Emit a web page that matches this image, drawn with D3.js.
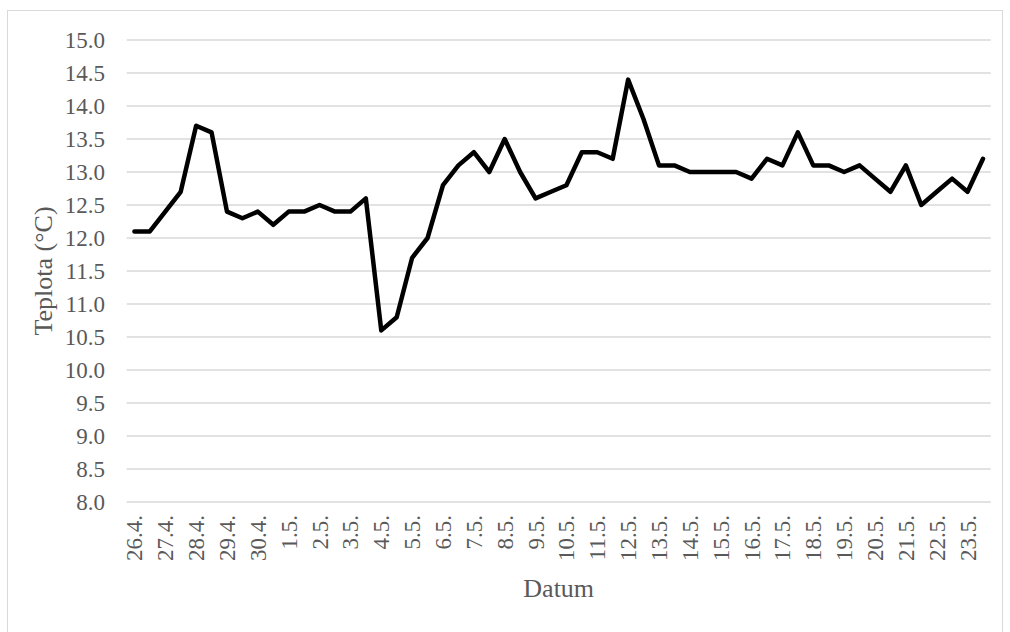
<!DOCTYPE html>
<html>
<head>
  <meta charset="utf-8">
  <title>Teplota</title>
  <script src="https://d3js.org/d3.v7.min.js"></script>
  <style>
    body{margin:0;background:#fff;}
    text{font-family:"Liberation Serif","Times New Roman",serif;fill:#595959;}
  </style>
</head>
<body>
  <script>
      // one label per day, two readings per day
      var days=["26.4.","27.4.","28.4.","29.4.","30.4.","1.5.","2.5.","3.5.","4.5.","5.5.",
                "6.5.","7.5.","8.5.","9.5.","10.5.","11.5.","12.5.","13.5.","14.5.","15.5.",
                "16.5.","17.5.","18.5.","19.5.","20.5.","21.5.","22.5.","23.5."];
      var temps=[12.1,12.1,12.4,12.7,13.7,13.6,12.4,12.3,12.4,12.2,
                 12.4,12.4,12.5,12.4,12.4,12.6,10.6,10.8,11.7,12.0,
                 12.8,13.1,13.3,13.0,13.5,13.0,12.6,12.7,12.8,13.3,
                 13.3,13.2,14.4,13.8,13.1,13.1,13.0,13.0,13.0,13.0,
                 12.9,13.2,13.1,13.6,13.1,13.1,13.0,13.1,12.9,12.7,
                 13.1,12.5,12.7,12.9,12.7,13.2];
      var yTicks=[8,8.5,9,9.5,10,10.5,11,11.5,12,12.5,13,13.5,14,14.5,15];

      var w=1010,h=632;
      var plotL=126.7,plotR=990.7,plotT=40,plotB=502;

      var svg=d3.select("body").append("svg")
                .attr("width",w).attr("height",h);

      svg.append("rect")
         .attr("x",7.5).attr("y",10.5)
         .attr("width",995).attr("height",640)
         .attr("fill","#fff").attr("stroke","#d9d9d9").attr("stroke-width",1);

      var idx=d3.range(temps.length);
      var x=d3.scaleBand().domain(idx).range([plotL,plotR]);
      var y=d3.scaleLinear().domain([8,15]).range([plotB,plotT]);

      // grid lines
      svg.append("g").selectAll("line")
         .data(yTicks).enter().append("line")
         .attr("x1",plotL).attr("x2",plotR)
         .attr("y1",function(d){return y(d);})
         .attr("y2",function(d){return y(d);})
         .attr("stroke","#d9d9d9").attr("stroke-width",1.3);

      // y tick labels
      svg.append("g").selectAll("text")
         .data(yTicks).enter().append("text")
         .attr("x",105)
         .attr("y",function(d){return y(d);})
         .attr("dy","0.35em")
         .attr("text-anchor","end")
         .attr("font-size",23)
         .text(function(d){return d3.format(".1f")(d);});

      // x tick labels, every morning reading
      svg.append("g").selectAll("text")
         .data(days).enter().append("text")
         .attr("transform",function(d,i){
           var cx=x(i*2)+x.bandwidth()/2;
           return "translate("+cx+",515) rotate(-90)";
         })
         .attr("dy","0.35em")
         .attr("text-anchor","end")
         .attr("font-size",23)
         .text(function(d){return d;});

      var line=d3.line()
                 .x(function(d,i){return x(i)+x.bandwidth()/2;})
                 .y(function(d){return y(d);});

      svg.append("path")
         .datum(temps)
         .attr("d",line)
         .attr("fill","none")
         .attr("stroke","#000")
         .attr("stroke-width",4.5)
         .attr("stroke-linejoin","round")
         .attr("stroke-linecap","round");

      svg.append("text")
         .attr("x",(plotL+plotR)/2).attr("y",597)
         .attr("text-anchor","middle")
         .attr("font-size",26)
         .text("Datum");

      svg.append("text")
         .attr("transform","translate(52,"+((plotT+plotB)/2)+") rotate(-90)")
         .attr("text-anchor","middle")
         .attr("font-size",26)
         .text("Teplota (°C)");
  </script>
</body>
</html>
